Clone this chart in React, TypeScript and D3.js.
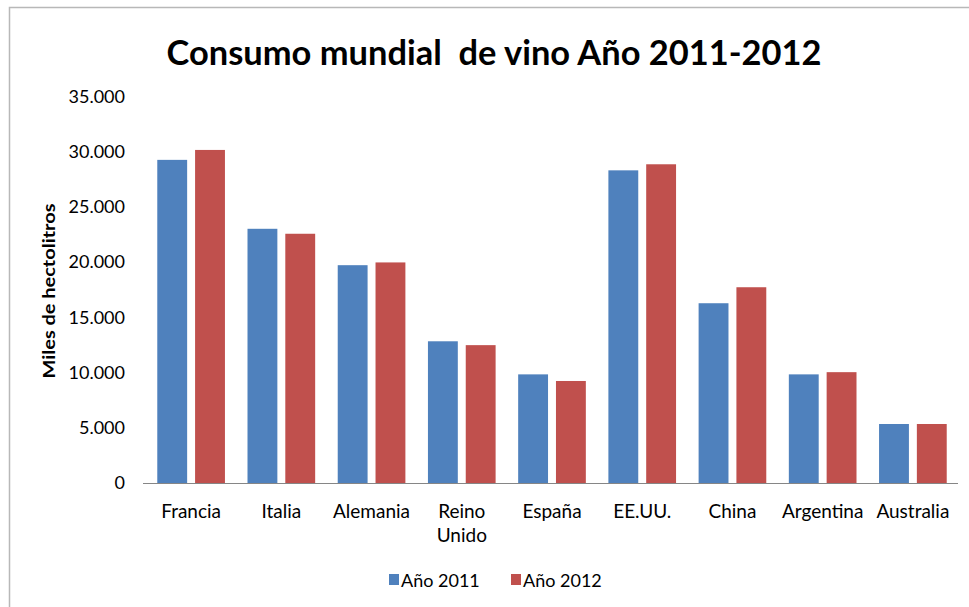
import React from "react";
import * as d3 from "d3";

const categories = ["Francia", "Italia", "Alemania", "Reino Unido", "España", "EE.UU.", "China", "Argentina", "Australia"];
const series = ["Año 2011", "Año 2012"];
const values2011 = [29300, 23050, 19750, 12850, 9850, 28350, 16300, 9850, 5350];
const values2012 = [30200, 22600, 20000, 12500, 9250, 28900, 17750, 10050, 5350];
const yTicks = [0, 5000, 10000, 15000, 20000, 25000, 30000, 35000];
const colors = ["#4F81BD", "#C0504D"];

const W = 969;
const H = 607;
const FONT = "Lato, 'Open Sans', sans-serif";

export default function App() {
  const x = d3.scaleBand<string>().domain(categories).range([146, 958]).paddingInner(0.25).paddingOuter(0.125);
  const x1 = d3.scaleBand<string>().domain(series).range([0, x.bandwidth()]).paddingInner(0.21);
  const y = d3.scaleLinear().domain([0, 35000]).range([483, 97]);
  const fmt = (v: number) => d3.format(",")(v).replace(/,/g, ".");
  const data = [values2011, values2012];
  const [r0, r1] = x.range();

  return (
    <svg width={W} height={H} style={{ position: "absolute", left: 0, top: 0, background: "#fff" }} fontFamily={FONT}>
      <rect x={9.5} y={7.5} width={W + 10} height={H + 10} fill="#fff" stroke="#b8b8b8" strokeWidth={1.5} />
      <text x={494} y={65} textAnchor="middle" fontSize={34} fontWeight="bold" fill="#000" xmlSpace="preserve" textLength={655} lengthAdjust="spacingAndGlyphs">
        {"Consumo mundial  de vino Año 2011-2012"}
      </text>
      {yTicks.map((t) => (
        <text key={t} x={125} y={y(t) + 6} textAnchor="end" fontSize={18} fill="#000">
          {fmt(t)}
        </text>
      ))}
      <text transform={`translate(55,291) rotate(-90)`} textAnchor="middle" fontSize={17} fontWeight="bold" fill="#000" textLength={175} lengthAdjust="spacingAndGlyphs">
        Miles de hectolitros
      </text>
      {categories.map((c, i) =>
        series.map((s, j) => {
          const v = data[j][i];
          return (
            <rect key={c + s} x={(x(c) as number) + (x1(s) as number)} y={y(v)} width={x1.bandwidth()} height={y(0) - y(v)} fill={colors[j]} />
          );
        })
      )}
      <line x1={r0 - 3} x2={r1} y1={y(0) + 0.5} y2={y(0) + 0.5} stroke="#868686" strokeWidth={1} />
      {categories.map((c) => {
        const cx = (x(c) as number) + x.bandwidth() / 2;
        const parts = c === "Reino Unido" ? ["Reino", "Unido"] : [c];
        return (
          <text key={c} x={cx} y={518} textAnchor="middle" fontSize={19} fill="#000">
            {parts.map((p, k) => (
              <tspan key={p} x={cx} dy={k === 0 ? 0 : 24}>
                {p}
              </tspan>
            ))}
          </text>
        );
      })}
      {series.map((s, j) => {
        const lx = 389 + j * 122;
        return (
          <g key={s}>
            <rect x={lx} y={574} width={10} height={11} fill={colors[j]} />
            <text x={lx + 12} y={587} fontSize={18} fill="#000">
              {s}
            </text>
          </g>
        );
      })}
    </svg>
  );
}
